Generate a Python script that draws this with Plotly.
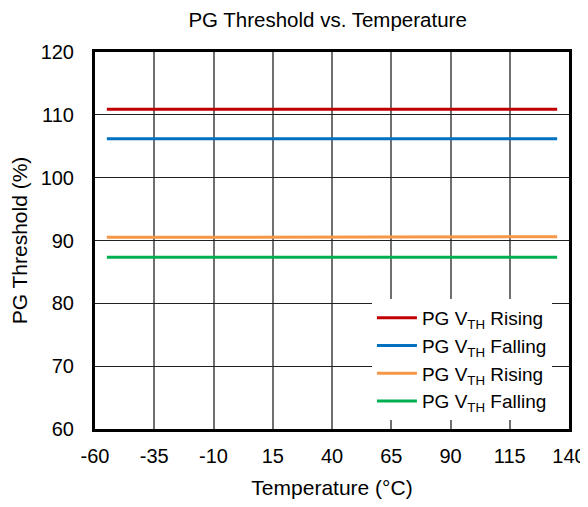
import plotly.graph_objects as go

temp = [-55, -40, -20, 0, 25, 50, 85, 105, 125, 135]
rise_a = [110.9, 110.9, 110.9, 110.9, 110.9, 110.9, 110.9, 110.9, 110.85, 110.9]
fall_a = [106.2, 106.2, 106.2, 106.2, 106.2, 106.2, 106.2, 106.2, 106.2, 106.2]
rise_b = [90.5, 90.5, 90.55, 90.55, 90.6, 90.6, 90.6, 90.6, 90.6, 90.6]
fall_b = [87.35, 87.35, 87.35, 87.35, 87.35, 87.35, 87.35, 87.35, 87.35, 87.35]

x_ticks = list(range(-60, 141, 25))
x_labels = ["-60", "-35", "-10", "15", "40", "65", "90", "115", "140"]
y_ticks = list(range(60, 121, 10))

names = ["PG V<sub>TH</sub> Rising", "PG V<sub>TH</sub> Falling",
         "PG V<sub>TH</sub> Rising", "PG V<sub>TH</sub> Falling"]
colors = ["#C00000", "#0070C0", "#F79646", "#00B050"]

fig = go.Figure()
for ys, nm, c in zip([rise_a, fall_a, rise_b, fall_b], names, colors):
    fig.add_trace(go.Scatter(x=temp, y=ys, mode="lines", name=nm,
                             line=dict(color=c, width=3)))

# page body adds an 8px offset, so the figure is sized to fit the window
fig.update_layout(
    width=580, height=491,
    paper_bgcolor="white", plot_bgcolor="white",
    font=dict(family="Arial, Liberation Sans, sans-serif", size=20, color="black"),
    title=dict(text="PG Threshold vs. Temperature", x=0.551, xanchor="center",
               y=0.976, yanchor="middle", font=dict(size=20.5)),
    margin=dict(l=87, r=19, t=44, b=70),
    showlegend=True,
    legend=dict(x=0.964, y=0.024, xanchor="right", yanchor="bottom", bgcolor="white",
                font=dict(size=19), tracegroupgap=0, itemwidth=40,
                borderwidth=0),
)
fig.update_xaxes(range=[-60, 140], tickvals=x_ticks, ticktext=x_labels,
                 showgrid=True, gridcolor="#707070", gridwidth=1.5,
                 showline=True, linecolor="black", linewidth=3, mirror=True,
                 zeroline=False, ticks="", ticklabelstandoff=7, automargin=False,
                 tickfont=dict(size=20),
                 title=dict(text="Temperature (°C)", standoff=25, font=dict(size=21)))
fig.update_yaxes(range=[60, 120], tickvals=y_ticks,
                 showgrid=True, gridcolor="#222222", gridwidth=1.2,
                 showline=True, linecolor="black", linewidth=3, mirror=True,
                 zeroline=False, ticks="", ticklabelstandoff=14, automargin=False,
                 tickfont=dict(size=20),
                 title=dict(text="PG Threshold (%)", standoff=14, font=dict(size=21)))

fig.write_html("out.html")
